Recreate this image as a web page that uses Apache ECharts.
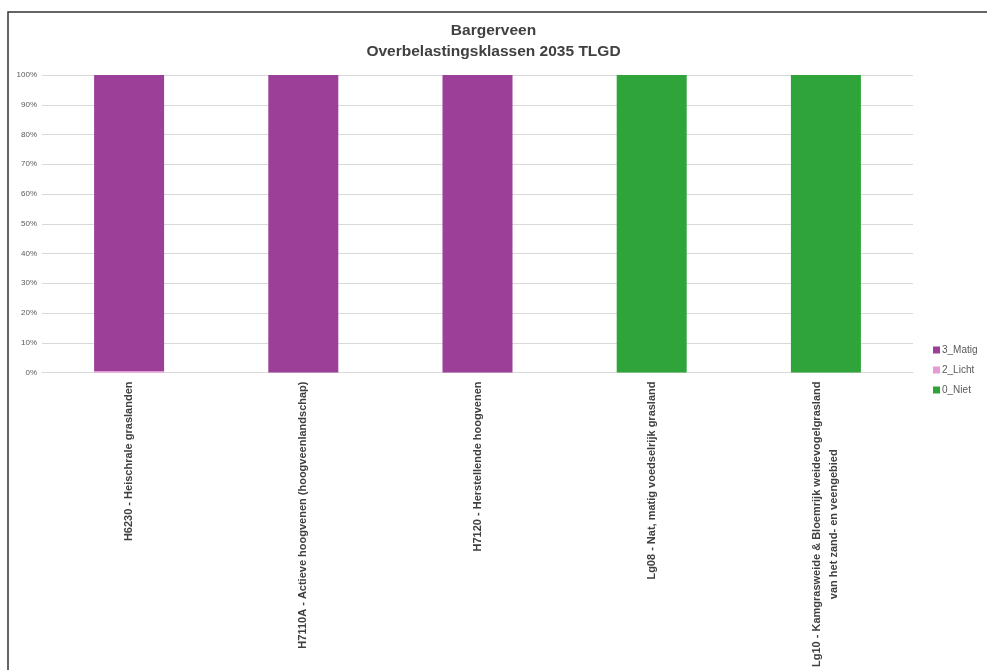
<!DOCTYPE html>
<html>
<head>
<meta charset="utf-8">
<script src="https://cdn.jsdelivr.net/npm/echarts@6/dist/echarts.min.js"></script>
<style>
html,body{margin:0;padding:0;background:#fff;}
#chart{width:987px;height:670px;}
</style>
</head>
<body>
<div id="chart"></div>
<script>
const categories = [
  'H6230 - Heischrale graslanden',
  'H7110A - Actieve hoogvenen (hoogveenlandschap)',
  'H7120 - Herstellende hoogvenen',
  'Lg08 - Nat, matig voedselrijk grasland',
  'Lg10 - Kamgrasweide & Bloemrijk weidevogelgrasland\nvan het zand- en veengebied'
];
const niet = [0, 0, 0, 100, 100];
const licht = [0.5, 0, 0, 0, 0];
const matig = [99.5, 100, 100, 0, 0];
const yTicks = [0, 10, 20, 30, 40, 50, 60, 70, 80, 90, 100];

const chart = echarts.init(document.getElementById('chart'));
chart.setOption({
  animation: false,
  title: {
    text: 'Bargerveen\nOverbelastingsklassen 2035 TLGD',
    left: 'center',
    top: 15,
    textStyle: {
      fontFamily: 'Liberation Sans, sans-serif',
      fontWeight: 'bold',
      fontSize: 15.5,
      lineHeight: 21,
      color: '#404040'
    }
  },
  graphic: [{
    type: 'polyline',
    shape: { points: [[8, 670], [8, 12], [987, 12]] },
    style: { stroke: '#333', lineWidth: 1.5, fill: null }
  }],
  legend: {
    orient: 'vertical',
    left: 928,
    top: 340,
    itemWidth: 7,
    itemHeight: 7,
    itemGap: 10,
    icon: 'rect',
    data: ['3_Matig', '2_Licht', '0_Niet'],
    textStyle: { fontFamily: 'Liberation Sans, sans-serif', fontSize: 10, color: '#595959', padding: [0,0,0,-3] }
  },
  grid: { left: 42, right: 74, top: 75, bottom: 295, containLabel: false },
  xAxis: {
    type: 'category',
    data: categories,
    axisLine: { show: true, lineStyle: { color: '#d9d9d9' } },
    axisTick: { show: false },
    axisLabel: {
      interval: 0,
      rotate: 90,
      margin: 9,
      color: '#404040',
      fontFamily: 'Liberation Sans, sans-serif',
      fontWeight: 'bold',
      fontSize: 11,
      formatter: function (v) {
        const parts = v.split('\n');
        if (parts.length === 1) return '{a|' + parts[0] + '}';
        return '{a|' + parts[0] + '}\n{b|' + parts[1] + '}';
      },
      rich: {
        a: { fontFamily: 'Liberation Sans, sans-serif', fontWeight: 'bold', fontSize: 11, color: '#404040', lineHeight: 17 },
        b: { fontFamily: 'Liberation Sans, sans-serif', fontWeight: 'bold', fontSize: 11, color: '#404040', lineHeight: 17, align: 'center' }
      }
    }
  },
  yAxis: {
    type: 'value',
    min: yTicks[0],
    max: yTicks[yTicks.length - 1],
    interval: 10,
    axisLine: { show: false },
    axisTick: { show: false },
    splitLine: { lineStyle: { color: '#d9d9d9' } },
    axisLabel: {
      formatter: '{value}%',
      fontFamily: 'Liberation Sans, sans-serif',
      fontSize: 8,
      color: '#595959',
      margin: 5
    }
  },
  series: [
    { name: '0_Niet', type: 'bar', stack: 't', data: niet, barWidth: 70, itemStyle: { color: '#2ea43a' } },
    { name: '2_Licht', type: 'bar', stack: 't', data: licht, barWidth: 70, itemStyle: { color: '#e59ad6' } },
    { name: '3_Matig', type: 'bar', stack: 't', data: matig, barWidth: 70, itemStyle: { color: '#9b3f98' } }
  ]
});
</script>
</body>
</html>
